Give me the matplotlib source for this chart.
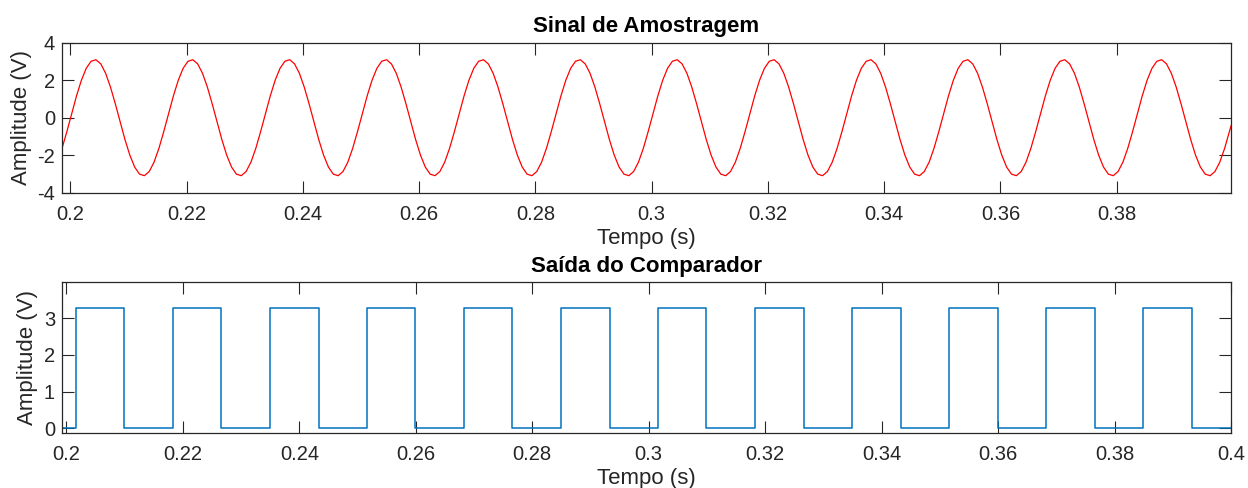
import numpy as np
import matplotlib
matplotlib.use("Agg")
import matplotlib.pyplot as plt

plt.rcParams['font.family'] = ['Liberation Sans', 'DejaVu Sans']
plt.rcParams['axes.unicode_minus'] = False

# sinal de entrada (senoide de 60 Hz)
sinal_amp = 3.1          # V
sinal_freq = 60.0        # Hz
sinal_pico = 0.2042      # instante de um pico (s)
sinal_fs = 1200.0        # taxa de amostragem (Hz)
sinal_t0, sinal_t1 = 0.19856, 0.39966

# saida do comparador: instantes de subida e descida (s)
comp_alto = 3.27
comp_baixo = 0.0
comp_subidas = [0.2016, 0.2183, 0.2349, 0.2516, 0.2683, 0.2849,
                0.3016, 0.3183, 0.3349, 0.3516, 0.3683, 0.3849]
comp_descidas = [0.2099, 0.2266, 0.2433, 0.2599, 0.2766, 0.2933,
                 0.3099, 0.3266, 0.3433, 0.3599, 0.3766, 0.3933]
comp_t0, comp_t1 = 0.19925, 0.4

xticks = [0.2, 0.22, 0.24, 0.26, 0.28, 0.3, 0.32, 0.34, 0.36, 0.38, 0.4]
xticklabels = ['0.2', '0.22', '0.24', '0.26', '0.28', '0.3', '0.32', '0.34', '0.36', '0.38', '0.4']

cinza = '#262626'

t = np.append(np.arange(sinal_t0, sinal_t1, 1 / sinal_fs), sinal_t1)
v = sinal_amp * np.cos(2 * np.pi * sinal_freq * (t - sinal_pico))

tq = [comp_t0]
vq = [comp_baixo]
for s, d in zip(comp_subidas, comp_descidas):
    tq += [s, s, d, d]
    vq += [comp_baixo, comp_alto, comp_alto, comp_baixo]
tq.append(comp_t1)
vq.append(comp_baixo)

fig = plt.figure(figsize=(12.48, 4.88), dpi=100)
ax1 = fig.add_axes([0.0497, 0.6051, 0.9367, 0.3074])
ax2 = fig.add_axes([0.0497, 0.1127, 0.9367, 0.3088])

ax1.plot(t, v, color='#ff0000', lw=0.9)
ax1.set_xlim(sinal_t0, sinal_t1)
ax1.set_ylim(-4, 4)
ax1.set_yticks([-4, -2, 0, 2, 4])
# o ultimo tick (0.4) fica fora do intervalo do sinal
ax1.set_xticks(xticks[:-1])
ax1.set_xticklabels(xticklabels[:-1])
ax1.set_title('Sinal de Amostragem', fontsize=16, fontweight='bold', pad=7.5)

ax2.plot(tq, vq, color='#0072bd', lw=1.1)
ax2.set_xlim(comp_t0, comp_t1)
ax2.set_ylim(-0.13, 3.98)
ax2.set_yticks([0, 1, 2, 3])
ax2.set_xticks(xticks)
ax2.set_xticklabels(xticklabels)
ax2.set_title('Saída do Comparador', fontsize=16, fontweight='bold', pad=7.5)

for ax in (ax1, ax2):
    ax.set_xlabel('Tempo (s)', fontsize=16, color=cinza, labelpad=3)
    ax.set_ylabel('Amplitude (V)', fontsize=16, color=cinza, labelpad=4)
    ax.tick_params(direction='in', length=8.3, width=0.8, colors=cinza,
                   labelsize=14.5, top=True, right=True)
    ax.tick_params(axis='x', pad=8.5)
    ax.tick_params(axis='y', pad=5)
    for sp in ax.spines.values():
        sp.set_color(cinza)
        sp.set_linewidth(0.9)

fig.savefig('out.png', dpi=100)
